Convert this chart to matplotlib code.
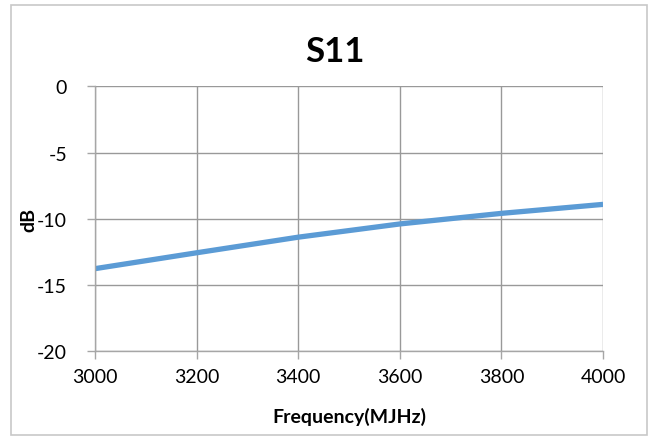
import matplotlib.pyplot as plt
from matplotlib.patches import Rectangle

# S11 data
freq = [3000, 3200, 3400, 3600, 3800, 4000]
s11_db = [-13.77, -12.57, -11.39, -10.39, -9.59, -8.91]

xticks = [3000, 3200, 3400, 3600, 3800, 4000]
yticks = [0, -5, -10, -15, -20]

plt.rcParams['font.family'] = ['Lato', 'DejaVu Sans']
plt.rcParams['axes.unicode_minus'] = False

fig = plt.figure(figsize=(6.52, 4.39), dpi=100)
ax = fig.add_axes([0.1457, 0.198, 0.925 - 0.1457, 0.8007 - 0.198])

# outer chart border
fig.patches.append(Rectangle((11 / 652, 3 / 439), 636 / 652, 430 / 439,
                             transform=fig.transFigure, fill=False,
                             edgecolor='#c8c8c8', linewidth=1.2))

ax.plot(freq, s11_db, color='#5b9bd5', linewidth=3.8, solid_capstyle='butt')

ax.set_xlim(3000, 4000)
ax.set_ylim(-20, 0)
ax.set_xticks(xticks)
ax.set_yticks(yticks)
ax.grid(True, color='#999999', linewidth=1)
ax.set_axisbelow(True)

for s in ax.spines.values():
    s.set_color('#a6a6a6')
    s.set_linewidth(1)
ax.spines['top'].set_visible(False)
ax.spines['right'].set_visible(False)

ax.tick_params(axis='both', colors='#a6a6a6', length=6, width=1,
               labelsize=14, labelcolor='black')
ax.tick_params(axis='x', pad=6)
ax.tick_params(axis='y', pad=14)

# title is centred on the whole chart, not the plot area
fig.text(335 / 652, 1 - 52 / 439, 'S11', fontsize=25, fontweight='bold',
         ha='center', va='center')
ax.set_xlabel('Frequency(MJHz)', fontsize=14, fontweight='bold', labelpad=16)
ax.set_ylabel('dB', fontsize=14, fontweight='bold', labelpad=0)

fig.savefig('out.png', dpi=100)
